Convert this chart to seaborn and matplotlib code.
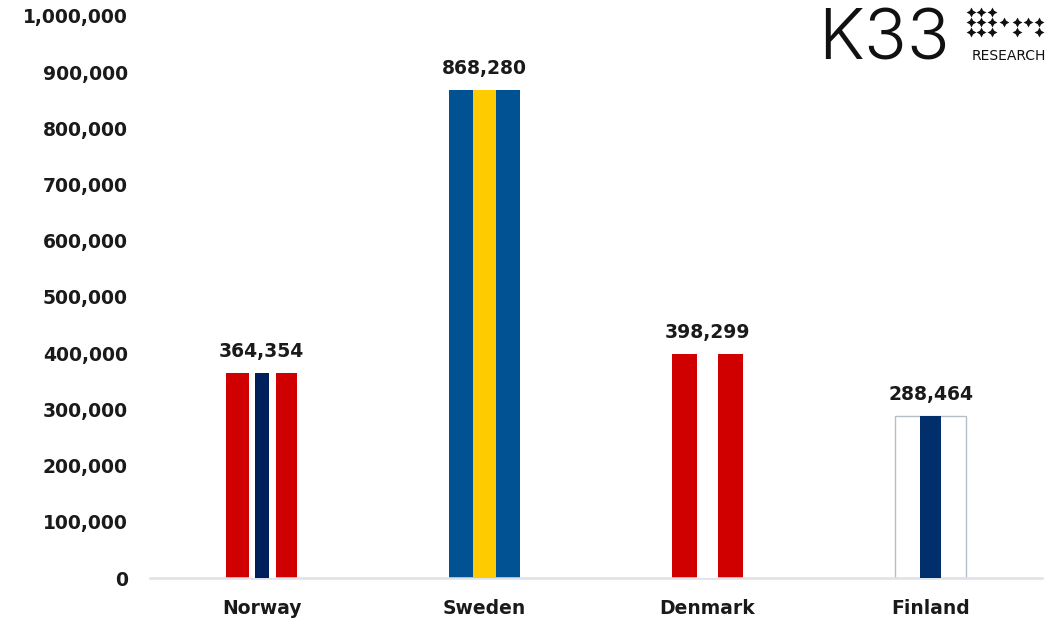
import matplotlib
matplotlib.use("Agg")
import matplotlib.pyplot as plt
import pandas as pd
import seaborn as sns

# Data
countries = ["Norway", "Sweden", "Denmark", "Finland"]
holders = [364354, 868280, 398299, 288464]
y_ticks = [0, 100000, 200000, 300000, 400000, 500000, 600000, 700000, 800000, 900000, 1000000]

# flag-like fills: base colour + inner stripes (fraction of bar width)
base_colors = ["#d00000", "#005293", "#d00000", "#ffffff"]
stripes = {
    "Norway": [(0.325, 0.70, "#ffffff"), (0.415, 0.61, "#00205b")],
    "Sweden": [(0.34, 0.655, "#fecb00")],
    "Denmark": [(0.355, 0.645, "#ffffff")],
    "Finland": [(0.355, 0.645, "#002f6c")],
}

df = pd.DataFrame({"country": countries, "holders": holders})

sns.set_theme(style="white")
plt.rcParams["font.family"] = ["DejaVu Sans"]

fig = plt.figure(figsize=(10.5, 6.24), dpi=100)
ax = fig.add_axes([0.1429, 0.0737, 0.8495, 0.9007])

sns.barplot(data=df, x="country", y="holders", hue="country", palette=base_colors,
            legend=False, width=0.32, saturation=1, ax=ax, linewidth=0)

for patch, name in zip(ax.patches, countries):
    x0, w, h = patch.get_x(), patch.get_width(), patch.get_height()
    if name == "Finland":
        patch.set_edgecolor("#b4bec8")
        patch.set_linewidth(1.0)
    for a, b, col in stripes[name]:
        ax.bar(x0 + a * w, h, width=(b - a) * w, align="edge", color=col, linewidth=0, zorder=3)

for patch, v in zip(ax.patches[:4], holders):
    ax.text(patch.get_x() + patch.get_width() / 2, v + 22000, f"{v:,}",
            ha="center", va="bottom", fontsize=13.5, fontweight="bold", color="#1a1a1a")

ax.set_ylim(0, 1000000)
ax.set_xlim(-0.5, 3.5)
ax.set_yticks(y_ticks)
ax.set_yticklabels([f"{t:,}" for t in y_ticks])
ax.set_xlabel("")
ax.set_ylabel("")
ax.tick_params(axis="both", length=0, labelsize=13.5, colors="#1a1a1a")
ax.tick_params(axis="y", pad=16)
ax.tick_params(axis="x", pad=15)
for lab in ax.get_xticklabels() + ax.get_yticklabels():
    lab.set_fontweight("bold")

for s in ["left", "right", "top"]:
    ax.spines[s].set_visible(False)
ax.spines["bottom"].set_color("#dfe2e6")
ax.spines["bottom"].set_linewidth(1.8)
ax.grid(False)

# K33 Research logo (pixel coordinates overlay)
fig_ax = fig.add_axes([0, 0, 1, 1], facecolor="none")
fig_ax.set_xlim(0, 1050)
fig_ax.set_ylim(624, 0)
fig_ax.axis("off")
fig_ax.text(818, 60, "K33", fontsize=51, family="Inter", fontweight=350,
            color="#111111", ha="left", va="baseline")
fig_ax.text(1046, 60, "RESEARCH", fontsize=10, family="DejaVu Sans",
            color="#111111", ha="right", va="baseline")
star_x = [971, 981, 992, 971, 981, 992, 1004, 1017, 1028, 1039, 971, 981, 992, 1017, 1039]
star_y = [12, 12, 12, 22, 22, 22, 22, 22, 22, 22, 32, 32, 32, 32, 32]
fig_ax.scatter(star_x, star_y, marker=(4, 1, 0), s=50, color="#111111", linewidths=0)

fig.savefig("out.png", dpi=100)
